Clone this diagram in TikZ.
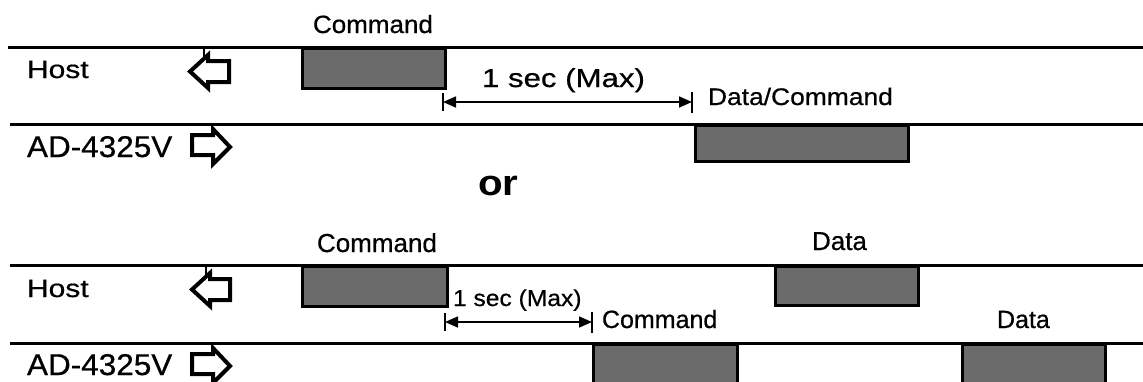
\documentclass[tikz,border=0pt]{standalone}
\usepackage{graphicx}
\usepackage{fontspec}
\setmainfont{Liberation Sans}
\newfontfamily\scanfont{Liberation Sans}[FakeBold=0.6]
\usetikzlibrary{arrows.meta}
\newcommand\mytxt[3]{\scanfont\fontsize{#1}{#1}\selectfont\scalebox{#2}[1]{#3}}
\begin{document}
\begin{tikzpicture}[x=1pt,y=-1pt,
  lbl/.style={anchor=base west, inner sep=0pt, outer sep=0pt},
  blk/.style={draw=black, line width=3pt, fill=black!58, anchor=north west, inner sep=0pt, outer sep=0pt},
  bus/.style={line width=3pt},
  hollow/.style={draw=black, line width=4pt, line join=miter, fill=white},
  dim/.style={line width=1.6pt, {Triangle[length=13pt,width=11pt]}-{Triangle[length=13pt,width=11pt]}},
  tickmark/.style={line width=2.2pt}]
\useasboundingbox (0,0) rectangle (1143,381);

% ---------- top diagram ----------
\coordinate (h1l) at (8,47);  \coordinate (h1r) at (1143,47);
\coordinate (a1l) at (10,124); \coordinate (a1r) at (1143,124);
\draw[bus] (h1l) -- (h1r);
\draw[bus] (a1l) -- (a1r);

\node[lbl] (cmd1) at (313,33) {\mytxt{25}{1.04}{Command}};
\node[lbl] (host1) at (27,78) {\mytxt{25}{1.2}{Host}};
\node[lbl] (ad1) at (27,157) {\mytxt{30}{1.05}{AD-4325V}};

\node[blk, minimum width=143pt, minimum height=40pt] (box1) at (302,48) {};
\node[blk, minimum width=213pt, minimum height=36pt] (box2) at (695,125) {};

\draw[hollow] (190,71.5) -- (208,55) -- (208,61) -- (229,61) -- (229,82) -- (208,82) -- (208,88) -- cycle;
\draw[line width=2pt] (204,47) -- (204,57);
\draw[hollow] (230,147) -- (213,129) -- (213,135) -- (192,135) -- (192,155) -- (213,155) -- (213,164) -- cycle;
\draw[line width=2pt] (212,124) -- (212,130);

\coordinate (d1a) at (443,102); \coordinate (d1b) at (692,102);
\draw[dim] (d1a) -- (d1b);
\draw[tickmark] ([yshift=-9pt]d1a) -- ([yshift=9pt]d1a);
\draw[tickmark] ([yshift=-11pt]d1b) -- ([yshift=10pt]d1b);
\node[lbl] (sec1) at (482,87) {\mytxt{26}{1.2}{1 sec (Max)}};
\node[lbl] (dc1) at (708,105) {\mytxt{24}{1.1}{Data/Command}};

\node[lbl] (or) at (478,195) {\fontsize{36}{36}\selectfont\bfseries\scalebox{1.12}[1]{or}};

% ---------- bottom diagram ----------
\coordinate (h2l) at (10,265);  \coordinate (h2r) at (1143,265);
\coordinate (a2l) at (10,343); \coordinate (a2r) at (1143,343);
\draw[bus] (h2l) -- (h2r);
\draw[bus] (a2l) -- (a2r);

\node[lbl] (cmd2) at (317,252) {\mytxt{26}{1.0}{Command}};
\node[lbl] (data2) at (812,250) {\mytxt{26}{1.0}{Data}};
\node[lbl] (host2) at (27,297) {\mytxt{25}{1.2}{Host}};
\node[lbl] (ad2) at (27,375) {\mytxt{30}{1.05}{AD-4325V}};

\node[blk, minimum width=145pt, minimum height=40pt] (box3) at (302,266) {};
\node[blk, minimum width=143pt, minimum height=39pt] (box4) at (775,266) {};
\node[blk, minimum width=144pt, minimum height=40pt] (box5) at (593,344) {};
\node[blk, minimum width=143pt, minimum height=40pt] (box6) at (962,344) {};

\draw[hollow] (192,289.5) -- (210,273) -- (210,279) -- (230,279) -- (230,300) -- (210,300) -- (210,306) -- cycle;
\draw[line width=2pt] (206,265) -- (206,275);
\draw[hollow] (230,366) -- (213,348) -- (213,354) -- (192,354) -- (192,374) -- (213,374) -- (213,383) -- cycle;
\draw[line width=2pt] (212,343) -- (212,349);

\coordinate (d2a) at (445,322); \coordinate (d2b) at (592,322);
\draw[dim] (d2a) -- (d2b);
\draw[tickmark] ([yshift=-9pt]d2a) -- ([yshift=9pt]d2a);
\draw[tickmark] ([yshift=-11pt]d2b) -- ([yshift=10pt]d2b);
\node[lbl] (sec2) at (453,306) {\mytxt{23}{1.07}{1 sec (Max)}};
\node[lbl] (cmd3) at (602,328) {\mytxt{25}{1.0}{Command}};
\node[lbl] (data3) at (997,328) {\mytxt{25}{1.0}{Data}};
\end{tikzpicture}
\end{document}
